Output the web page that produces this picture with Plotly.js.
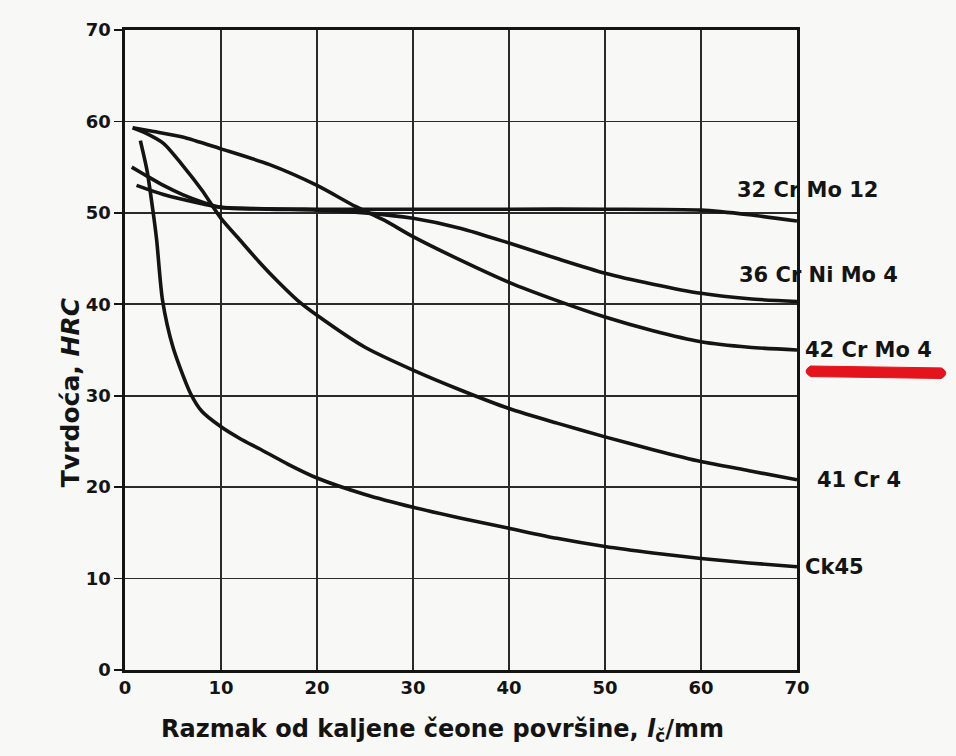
<!DOCTYPE html>
<html>
<head>
<meta charset="utf-8">
<script src="https://cdn.plot.ly/plotly-3.0.1.min.js"></script>
<style>html,body{margin:0;padding:0;background:#f8f8f6;}#chart{width:956px;height:756px;}</style>
</head>
<body>
<div id="chart"></div>
<script>
// Jominy hardenability curves (distance mm -> hardness HRC)
const steelNames = ["32 Cr Mo 12", "36 Cr Ni Mo 4", "42 Cr Mo 4", "41 Cr 4", "Ck45"];

const x32CrMo12 = [1.2, 4, 8, 10, 20, 30, 40, 50, 60, 65, 70];
const y32CrMo12 = [53, 52, 51, 50.6, 50.4, 50.4, 50.4, 50.4, 50.3, 49.8, 49.1];

const x36CrNiMo4 = [0.7, 2, 4, 6, 8, 10, 15, 20, 25, 30, 35, 40, 45, 50, 55, 60, 65, 70];
const y36CrNiMo4 = [55, 54.2, 53, 52, 51.2, 50.6, 50.4, 50.3, 50, 49.4, 48.3, 46.7, 45, 43.4, 42.2, 41.2, 40.6, 40.3];

const x42CrMo4 = [0.8, 3, 6, 10, 15, 20, 24, 27, 30, 35, 40, 45, 50, 55, 60, 65, 70];
const y42CrMo4 = [59.3, 58.9, 58.3, 57, 55.3, 53, 50.7, 49.2, 47.4, 44.8, 42.4, 40.4, 38.6, 37.1, 35.9, 35.3, 35];

const x41Cr4 = [0.8, 2, 4, 6, 8, 10, 12, 14, 16, 18, 20, 25, 30, 35, 40, 45, 50, 55, 60, 65, 70];
const y41Cr4 = [59.3, 58.8, 57.6, 55.2, 52.5, 49.4, 47, 44.6, 42.4, 40.4, 38.8, 35.3, 32.8, 30.6, 28.6, 27, 25.5, 24.1, 22.8, 21.8, 20.8];

const xCk45 = [1.6, 2.3, 2.9, 3.3, 3.9, 5, 6.8, 8, 10, 12, 14, 17, 20, 25, 30, 35, 40, 45, 50, 55, 60, 65, 70];
const yCk45 = [57.9, 54.6, 50.3, 47, 40.5, 35.3, 30.3, 28.3, 26.6, 25.3, 24.2, 22.5, 21, 19.2, 17.8, 16.6, 15.5, 14.4, 13.5, 12.8, 12.2, 11.7, 11.3];

const tickVals = [0, 10, 20, 30, 40, 50, 60, 70];
const tickText = ["0", "10", "20", "30", "40", "50", "60", "70"];

// label anchor positions (in axis units, both axes span 0..70)
const labelX = [63.5, 63.7, 70.6, 71.9, 70.6];
const labelY = [52.5, 43.2, 35, 20.8, 11.3];
const AXMAX = 70;

const xs = [x32CrMo12, x36CrNiMo4, x42CrMo4, x41Cr4, xCk45];
const ys = [y32CrMo12, y36CrNiMo4, y42CrMo4, y41Cr4, yCk45];

const FONT = "DejaVu Sans, Verdana, sans-serif";
const INK = "#141414";

const traces = xs.map((x, i) => ({
  x: x, y: ys[i], name: steelNames[i], type: "scatter", mode: "lines",
  line: {color: INK, width: 3.6, shape: "spline", smoothing: 0.7},
  showlegend: false, hoverinfo: "x+y+name"
}));

const annotations = steelNames.map((n, i) => ({
  x: labelX[i] / AXMAX, y: labelY[i] / AXMAX, xref: "paper", yref: "paper", text: n, showarrow: false,
  xanchor: "left", yanchor: "middle",
  font: {family: FONT, size: 21, color: INK, weight: "bold"}
}));
annotations.push({
  x: -0.082, y: 0.434, xref: "paper", yref: "paper", textangle: -90,
  text: "Tvrdoća, <i>HRC</i>", showarrow: false, xanchor: "center", yanchor: "middle",
  font: {family: FONT, size: 25, color: INK, weight: "bold"}
});
annotations.push({
  x: 0.472, y: -0.094, xref: "paper", yref: "paper",
  text: "Razmak od kaljene čeone površine, <i>l</i><sub>č</sub>/mm", showarrow: false,
  xanchor: "center", yanchor: "middle",
  font: {family: FONT, size: 24, color: INK, weight: "bold"}
});

const layout = {
  width: 956, height: 756,
  margin: {l: 125, r: 159, t: 30, b: 86},
  paper_bgcolor: "#f8f8f6", plot_bgcolor: "#f8f8f6",
  showlegend: false,
  xaxis: {
    range: [0, 70], tickmode: "array", tickvals: tickVals, ticktext: tickText,
    showgrid: true, gridcolor: "#2a2a2a", gridwidth: 1.6,
    showline: true, linecolor: INK, linewidth: 2.6, mirror: true,
    ticks: "", zeroline: false,
    tickfont: {family: FONT, size: 18, color: INK, weight: "bold"}
  },
  yaxis: {
    range: [0, 70], tickmode: "array", tickvals: tickVals, ticktext: tickText,
    showgrid: true, gridcolor: "#2a2a2a", gridwidth: 1.6,
    showline: true, linecolor: INK, linewidth: 2.6, mirror: true,
    ticks: "outside", ticklen: 8, tickwidth: 1.6, tickcolor: INK, zeroline: false,
    tickfont: {family: FONT, size: 18, color: INK, weight: "bold"}
  },
  annotations: annotations,
  shapes: [{
    type: "path", xref: "paper", yref: "paper",
    path: "M 1.020 0.4750 L 1.215 0.4720 Q 1.228 0.4640 1.215 0.4555 L 1.020 0.4585 Q 1.007 0.4668 1.020 0.4750 Z",
    fillcolor: "#e3141c", line: {color: "#e3141c", width: 1}
  }]
};

Plotly.newPlot("chart", traces, layout, {staticPlot: true});
</script>
</body>
</html>
